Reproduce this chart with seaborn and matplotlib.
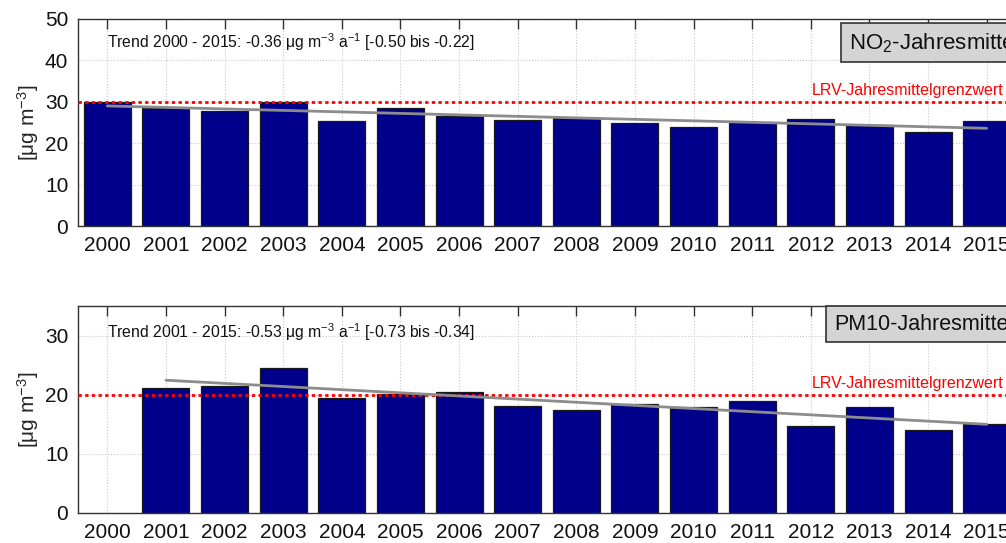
import numpy as np
import pandas as pd
import matplotlib
matplotlib.use("Agg")
import matplotlib.pyplot as plt
import seaborn as sns

# Daten
jahre = ["2000", "2001", "2002", "2003", "2004", "2005", "2006", "2007",
         "2008", "2009", "2010", "2011", "2012", "2013", "2014", "2015"]
no2_werte = [30.0, 28.4, 27.7, 29.9, 25.4, 28.5, 26.6, 25.5,
             26.2, 25.0, 23.9, 25.0, 25.8, 24.4, 22.8, 25.3]
pm10_werte = [np.nan, 21.2, 21.5, 24.5, 19.4, 20.1, 20.5, 18.1,
              17.4, 18.4, 17.9, 18.9, 14.7, 18.0, 14.0, 15.1]

trend_no2_jahre = ["2000", "2015"]
trend_no2_werte = [29.0, 23.6]
trend_pm10_jahre = ["2001", "2015"]
trend_pm10_werte = [22.45, 15.0]

grenzwert_no2 = 30
grenzwert_pm10 = 20

trend_no2_text = "Trend 2000 - 2015: -0.36 μg m$^{-3}$ a$^{-1}$ [-0.50 bis -0.22]"
trend_pm10_text = "Trend 2001 - 2015: -0.53 μg m$^{-3}$ a$^{-1}$ [-0.73 bis -0.34]"
titel_no2 = "NO$_2$-Jahresmittel"
titel_pm10 = "PM10-Jahresmittel"

sns.set_style("white")
plt.rcParams['font.family'] = ['Liberation Sans', 'DejaVu Sans']
plt.rcParams['mathtext.default'] = 'regular'

fig = plt.figure(figsize=(10.06, 5.43), dpi=100)
W, H = 1006, 543


def achse(links, oben, rechts, unten):
    return fig.add_axes([links / W, 1 - unten / H, (rechts - links) / W, (unten - oben) / H])


def panel(ax, werte, trend_jahre, trend_werte, grenzwert, ymax, yticks,
          trend_text, titel, text_y, titel_x, titel_y, titel_size):
    df = pd.DataFrame({"jahr": jahre, "wert": werte})
    sns.barplot(data=df, x="jahr", y="wert", order=jahre, ax=ax,
                color="#00008B", saturation=1, width=0.8,
                edgecolor="#1a1a1a", linewidth=0.9, zorder=2)
    ax.set_axisbelow(True)
    ax.grid(True, color="#c8c8c8", linestyle=":", linewidth=0.8)

    # Grenzwert
    ax.axhline(grenzwert, color="#ff0000", linestyle=(0, (1.2, 1.2)),
               linewidth=2.0, zorder=4)
    ax.annotate("LRV-Jahresmittelgrenzwert", xy=(0.987, grenzwert),
                xycoords=("axes fraction", "data"), xytext=(0, 3),
                textcoords="offset points", ha="right", va="bottom",
                color="#ff0000", fontsize=11.5)

    # Trendlinie
    tx = [jahre.index(j) for j in trend_jahre]
    sns.lineplot(x=tx, y=trend_werte, ax=ax, color="#8c8c8c",
                 linewidth=2.0, zorder=5)

    ax.text(0.031, text_y, trend_text, transform=ax.transAxes,
            ha="left", va="center", fontsize=11.3, color="#111111")
    ax.text(titel_x, titel_y, titel, transform=ax.transAxes, ha="left",
            va="center", fontsize=titel_size, color="#111111", zorder=6,
            bbox=dict(boxstyle="square,pad=0.35", facecolor="#d4d4d4",
                      edgecolor="#333333", linewidth=1.2))

    ax.set_xlim(-0.5, 15.5)
    ax.set_ylim(0, ymax)
    ax.set_yticks(yticks)
    ax.set_xlabel("")
    ax.set_ylabel("[μg m$^{-3}$]", fontsize=15, labelpad=3)
    ax.tick_params(axis="both", direction="in", length=7, width=1,
                   labelsize=15, top=True, right=False, colors="#333333",
                   labelcolor="#111111")
    ax.tick_params(axis="x", pad=7)
    ax.tick_params(axis="y", pad=7)
    for s in ax.spines.values():
        s.set_color("#333333")
        s.set_linewidth(1.0)


ax1 = achse(78, 19, 1016, 226)
panel(ax1, no2_werte, trend_no2_jahre, trend_no2_werte, grenzwert_no2,
      50, [0, 10, 20, 30, 40, 50], trend_no2_text, titel_no2, 0.889,
      0.822, 0.885, 16)

ax2 = achse(78, 306, 1016, 513)
panel(ax2, pm10_werte, trend_pm10_jahre, trend_pm10_werte, grenzwert_pm10,
      35, [0, 10, 20, 30], trend_pm10_text, titel_pm10, 0.874,
      0.806, 0.912, 15.5)

fig.savefig("out.png", dpi=100)
